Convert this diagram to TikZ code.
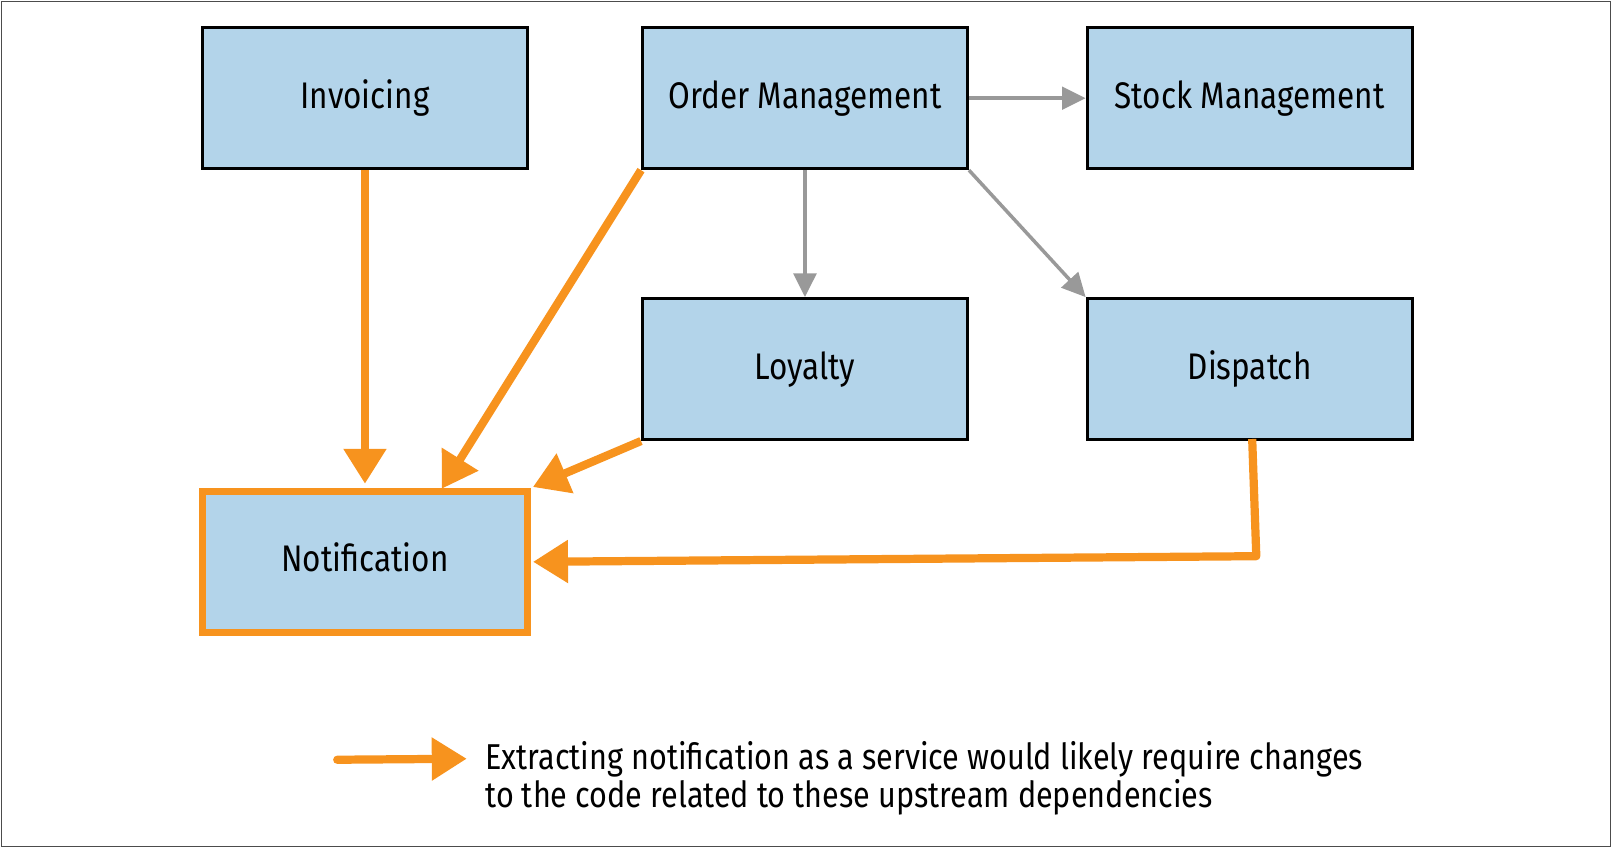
\documentclass[tikz,border=0pt]{standalone}
\usepackage{fontspec}
\setmainfont{Fira Sans}[FakeStretch=0.85]
\usetikzlibrary{arrows.meta}
\definecolor{boxblue}{HTML}{B3D4EA}
\definecolor{dep}{HTML}{F7931E}
\definecolor{lgray}{HTML}{999999}
\begin{document}
\begin{tikzpicture}[x=1pt,y=-1pt,
  svc/.style={draw=black,line width=3pt,fill=boxblue,minimum width=316pt,minimum height=137pt,inner sep=0pt,font=\fontsize{36}{40}\selectfont},
  grayarr/.style={draw=lgray,line width=3.4pt,-{Triangle[length=23pt,width=22pt]}},
  orarr/.style={draw=dep,line width=8pt,-{Triangle[length=34pt,width=40pt]}}]
\useasboundingbox (0,0) rectangle (1568,825);
\draw[line width=1.2pt,draw=black!70] (1.5,1.5) rectangle (1566.5,823.5);
\node[svc] (inv) at (355,95.5) {Invoicing};
\node[svc] (om) at (783,95.5) {Order Management};
\node[svc] (stock) at (1215.5,95.5) {Stock Management};
\node[svc] (loy) at (783,359) {Loyalty};
\node[svc] (dis) at (1215.5,359) {Dispatch};
\node[svc,draw=dep,line width=7pt,text depth=10pt] (not) at (355,546.5) {Notification};
% gray dependencies
\draw[grayarr] (om.east) -- (stock.west);
\draw[grayarr] (om.south) -- (loy.north);
\draw[grayarr] (om.south east) -- (dis.north west);
% orange
\coordinate (d1) at (1222,541);
\coordinate (omn) at (428,478);
\draw[orarr,shorten >=4pt] (inv.south) -- (not.north);
\draw[orarr,shorten >=3pt] (om.south west) -- (omn);
\draw[orarr,shorten >=2pt] (loy.south west) -- (not.north east);
\draw[orarr,line join=round,shorten >=2pt] (1218,427) -- (d1) -- (not.east);
% legend
\coordinate (la) at (328,739);
\coordinate (lb) at (454,738);
\draw[orarr,line cap=round] (la) -- (lb);
\node[anchor=west,align=left,font=\fontsize{35}{37}\selectfont,inner sep=0pt] (leg) at (472,757) {Extracting notification as a service would likely require changes\\to the code related to these upstream dependencies};
\end{tikzpicture}
\end{document}
